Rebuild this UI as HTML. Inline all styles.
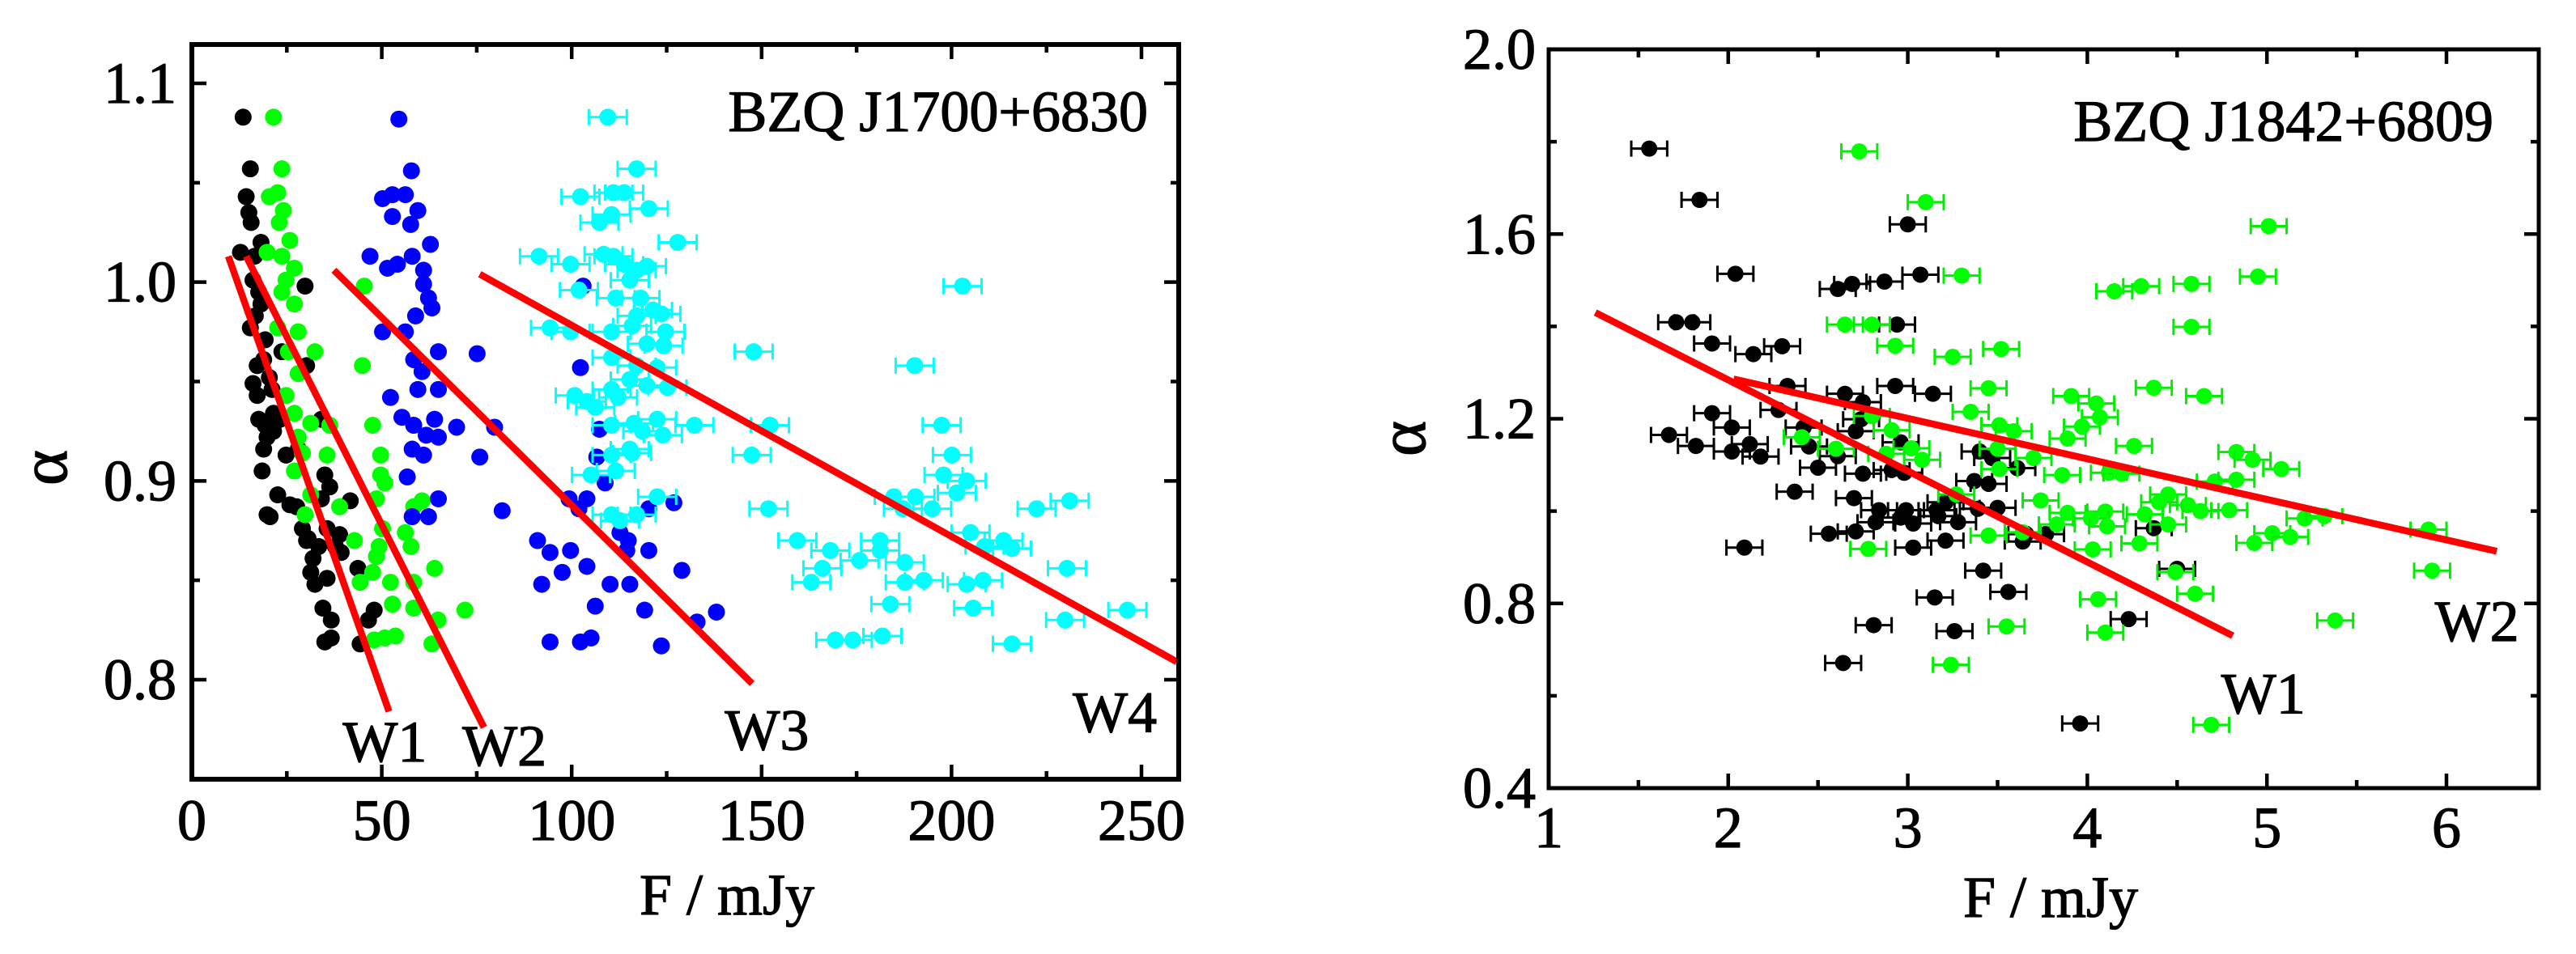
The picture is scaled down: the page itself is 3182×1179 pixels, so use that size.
<!DOCTYPE html>
<html><head><meta charset="utf-8"><style>
html,body{margin:0;padding:0;background:#fff;width:3182px;height:1179px;overflow:hidden}
svg{display:block}
text{font-family:"Liberation Serif",serif;fill:#000;stroke:#000;stroke-width:1.2}
</style></head><body>
<svg id="chart" width="3182" height="1179" viewBox="0 0 3182 1179" xmlns="http://www.w3.org/2000/svg"></svg>
<script>
// ---------- Left panel data (BZQ J1700+6830) ----------
const L_blackX=[13.5,15.4,14.3,15,15.6,12.8,16.5,18.2,29.8,15.4,18.2,19.3,17.2,20.4,17.2,21.5,19.3,18.9,19.8,18.5,22.6,19.8,20.6,24.8,27.6,30.2,34.1,35,36.3,30.2,33.4,31.3,32.4,35.6,37.8,38.9,41.7,34.5,36.7,36.7,35,43.7,46.5,48,44.3,23.7,28,30.6,31.9,16.1,17.6,16.7,18.9,21.1,16.1,17.6,21.5,23.2,25.8,29.1,35.6,34.1,39.3];
const L_blackY=[1.083,1.057,1.043,1.035,1.030,1.015,1.013,1.020,0.998,0.977,0.989,0.971,0.958,0.952,0.943,0.934,0.928,0.916,0.922,0.905,0.893,0.883,0.882,0.913,0.887,0.958,0.931,0.903,0.897,0.870,0.867,0.854,0.848,0.851,0.867,0.873,0.890,0.836,0.830,0.821,0.819,0.856,0.830,0.835,0.818,0.965,0.916,0.871,0.861,1.001,0.995,0.983,0.961,0.946,0.949,0.931,0.925,0.931,0.888,0.876,0.876,0.891,0.864];
const L_greenX=[21.5,23.7,20.4,22.6,24.1,23,25.8,19.8,23.7,27,24.8,23.7,27,22.6,28,25.4,32.4,28,24.8,27,31.3,36.3,28,29.1,35.6,27,31.3,29.8,38.9,45.4,44.9,47.6,49.7,49.7,50.8,48.6,58.4,60.6,42.8,48.6,47.6,44.3,56.2,57.7,52.3,58.4,63.9,52.8,58.4,64.8,71.9,48,50.8,53.6,63.2,49.3,50.2];
const L_greenY=[1.083,1.057,1.043,1.045,1.036,1.030,1.021,1.015,1.013,1.007,1.001,0.995,0.989,0.977,0.975,0.965,0.965,0.954,0.943,0.934,0.929,0.928,0.922,0.914,0.913,0.905,0.893,0.883,0.887,0.998,0.958,0.928,0.913,0.903,0.899,0.891,0.887,0.890,0.870,0.862,0.854,0.849,0.874,0.867,0.849,0.849,0.856,0.838,0.836,0.830,0.835,0.820,0.821,0.822,0.818,0.867,0.876];
const L_blueX=[54.5,57.8,50.2,52.8,56.2,52.8,59.5,57.6,62.8,46.9,58,51.5,54.1,61,61,62.3,63.2,50.2,56.2,58.9,64.9,58.4,60.6,59.5,64.9,52.3,55.3,58.4,63.9,61.7,58,61,64.9,56.7,58,62.3,64.9,75.1,69.7,75.8,79.7,81.7,103,102.3,107.3,106.6,108.8,104,99.3,101.9,91,94.3,99.7,97.5,92.1,104,112.7,114.9,114.5,120.3,120.3,126.9,110.1,115.3,106.2,119.2,129,133,138.1,94.3,102.3,105.1,123.6];
const L_blueY=[1.082,1.056,1.042,1.044,1.044,1.033,1.036,1.029,1.019,1.013,1.013,1.007,1.009,1.006,0.999,0.992,0.987,0.975,0.975,0.983,0.965,0.961,0.955,0.946,0.946,0.942,0.932,0.928,0.931,0.923,0.916,0.913,0.922,0.902,0.882,0.882,0.891,0.964,0.927,0.912,0.927,0.885,0.998,0.957,0.926,0.912,0.899,0.891,0.891,0.886,0.870,0.864,0.865,0.854,0.848,0.857,0.874,0.870,0.865,0.865,0.886,0.889,0.848,0.848,0.837,0.835,0.855,0.829,0.834,0.819,0.819,0.821,0.817];
const L_cyanX=[109.5,117.1,102.3,111,113.8,110.5,107.3,120.3,127.9,91.4,108.4,111,99.7,113.8,117.1,119.8,115.3,101.9,111.6,118.1,121.4,117.1,123.6,94.3,99.7,110.5,115.9,124.7,119.8,124.2,110.5,117.1,122.5,115.3,119.8,125.2,110.5,100.8,104,112.2,106.2,116.4,122.5,110.5,132.3,118.6,124,115.3,110.5,115.9,105.1,111.6,122.5,110.5,112.7,117.1,147.9,147.4,152.2,151.8,202.9,190.3,197.4,200.1,197.9,204,201.4,184.8,190.5,194.9,187.2,222.4,231.1,159.4,168.1,175.8,181.2,181.2,187.7,205,208.7,213.7,215.9,166,163.1,187.7,192.7,204,208.3,230.4,183.9,205.7,246.3,229.9,169.4,174,181.8,215.9];
const L_cyanY=[1.083,1.057,1.043,1.045,1.045,1.034,1.030,1.037,1.020,1.013,1.014,1.013,1.009,1.009,1.006,1.008,1.001,0.996,0.992,0.992,0.986,0.983,0.984,0.977,0.975,0.975,0.978,0.975,0.969,0.968,0.962,0.958,0.957,0.951,0.948,0.947,0.946,0.943,0.940,0.942,0.937,0.929,0.931,0.928,0.928,0.925,0.923,0.916,0.913,0.914,0.903,0.905,0.892,0.883,0.880,0.883,0.965,0.913,0.928,0.886,0.998,0.958,0.928,0.913,0.903,0.900,0.894,0.892,0.892,0.886,0.886,0.886,0.890,0.870,0.865,0.860,0.870,0.865,0.859,0.874,0.867,0.870,0.866,0.856,0.849,0.849,0.850,0.848,0.850,0.856,0.838,0.836,0.835,0.830,0.820,0.820,0.822,0.818];
const L_cyanErr=5;
const L_fitNames=['W1','W2','W3','W4'];
const L_fitX1=[9.6,14.3,37.4,75.8], L_fitY1=[1.013,1.013,1.006,1.004];
const L_fitX2=[51.9,76.9,147.5,259.3], L_fitY2=[0.784,0.776,0.798,0.809];
const L_labX=[50.8,82.3,151.4,243], L_labY=[0.769,0.767,0.775,0.784];
const L_xTicks=[0,50,100,150,200,250], L_yTicks=[0.8,0.9,1.0,1.1];
const L_xTickLabels=['0','50','100','150','200','250'], L_yTickLabels=['0.8','0.9','1.0','1.1'];

// ---------- Right panel data (BZQ J1842+6809) ----------
const R_blackX=[1.56,1.84,3.00,2.04,3.07,2.61,2.69,2.87,1.71,1.80,2.94,1.91,2.14,2.30,2.33,2.65,2.93,3.14,2.75,2.28,1.91,2.02,2.42,2.74,2.71,1.67,2.12,2.45,2.96,1.82,2.02,2.18,2.61,3.40,3.47,3.61,2.50,2.75,2.91,2.98,3.37,3.45,2.37,2.70,2.84,2.99,2.96,3.03,3.16,3.21,3.17,3.39,3.50,3.28,2.82,2.71,2.56,3.66,3.77,3.64,3.21,3.03,2.09,4.37,4.50,3.42,3.56,3.15,4.23,2.81,3.26,2.64,3.96];
const R_blackY=[1.785,1.674,1.621,1.514,1.512,1.481,1.492,1.497,1.409,1.409,1.404,1.363,1.340,1.357,1.271,1.254,1.271,1.254,1.236,1.219,1.212,1.181,1.181,1.199,1.173,1.165,1.145,1.140,1.149,1.141,1.129,1.118,1.119,1.129,1.115,1.093,1.094,1.081,1.089,1.083,1.065,1.059,1.042,1.028,1.002,1.002,0.986,0.973,1.002,1.019,0.989,1.005,1.007,0.976,0.976,0.956,0.951,0.950,0.950,0.934,0.936,0.921,0.921,0.963,0.875,0.871,0.825,0.813,0.766,0.753,0.740,0.671,0.540];
const R_greenX=[2.73,3.10,5.01,3.30,4.95,4.30,4.15,4.58,2.65,2.80,4.58,2.93,3.52,3.25,3.45,4.37,3.91,4.65,4.05,4.07,2.80,3.35,3.51,3.59,3.97,2.91,2.41,3.89,4.26,2.60,3.02,3.50,2.88,3.08,3.70,4.83,4.92,5.08,3.51,3.86,4.12,4.19,4.71,4.83,3.27,4.45,3.74,4.40,4.56,4.63,4.79,3.89,4.10,4.02,4.32,5.21,5.32,4.11,3.83,4.45,5.03,5.13,3.64,3.45,5.90,4.93,4.29,4.03,2.78,4.49,5.92,4.60,4.06,5.38,3.55,4.10,3.24,4.69];
const R_greenY=[1.779,1.669,1.617,1.510,1.508,1.487,1.476,1.492,1.404,1.404,1.399,1.358,1.351,1.334,1.266,1.267,1.249,1.249,1.233,1.203,1.206,1.215,1.186,1.173,1.183,1.175,1.160,1.157,1.141,1.135,1.136,1.135,1.124,1.111,1.115,1.128,1.111,1.091,1.091,1.078,1.083,1.081,1.064,1.068,1.036,1.036,1.023,1.019,1.013,1.000,1.002,0.996,0.999,0.984,0.993,0.984,0.989,0.967,0.971,0.971,0.952,0.944,0.954,0.947,0.960,0.931,0.930,0.917,0.918,0.868,0.871,0.821,0.809,0.763,0.750,0.737,0.667,0.537];
const R_err=0.1;
const R_fitNames=['W1','W2'];
const R_fitX1=[1.26,2.03], R_fitY1=[1.430,1.286];
const R_fitX2=[4.81,6.28], R_fitY2=[0.730,0.913];
const R_labX=[4.98,6.17], R_labY=[0.606,0.763];
const R_xTicks=[1,2,3,4,5,6], R_yTicks=[0.4,0.8,1.2,1.6,2.0];
const R_xTickLabels=['1','2','3','4','5','6'], R_yTickLabels=['0.4','0.8','1.2','1.6','2.0'];

const NS='http://www.w3.org/2000/svg';
const svg=document.getElementById('chart');
function mk(tag,attrs,parent){const e=document.createElementNS(NS,tag);for(const k in attrs)e.setAttribute(k,attrs[k]);(parent||svg).appendChild(e);return e;}

function panel(cfg){
  const g=mk('g',{});
  
  
  const sx=v=>cfg.px0+(v-cfg.x0)*(cfg.px1-cfg.px0)/(cfg.x1-cfg.x0);
  const sy=v=>cfg.py0+(v-cfg.y0)*(cfg.py1-cfg.py0)/(cfg.y1-cfg.y0);
  const L=cfg.fl,R=cfg.fr,T=cfg.ft,B=cfg.fb;
  cfg.series.forEach(s=>{
    const sg=mk('g',{},g);
    
    
    s.x.forEach((xv,i)=>{
      const cx=sx(xv),cy=sy(s.y[i]);
      if(s.err){
        const a=sx(xv-s.err),b=sx(xv+s.err);
        const eb=mk('path',{d:`M${a},${cy}H${b}M${a},${cy-10}V${cy+10}M${b},${cy-10}V${cy+10}`,stroke:s.ecol,'stroke-width':3,fill:'none'},sg);
        
        
      }
      const c=mk('circle',{cx:cx,cy:cy,r:cfg.r,fill:s.col},sg);
      
      
    });
  });
  cfg.fits.n.forEach((n,i)=>{
    const ln=mk('line',{x1:sx(cfg.fits.x1[i]),y1:sy(cfg.fits.y1[i]),x2:sx(cfg.fits.x2[i]),y2:sy(cfg.fits.y2[i]),stroke:'#ff0000','stroke-width':8.5},g);
    
    
    const t=mk('text',{x:sx(cfg.fits.lx[i]),y:sy(cfg.fits.ly[i])+25,'text-anchor':'middle','font-size':72},g);
    t.textContent=n;
    
    
  });
  const fr=mk('rect',{x:L,y:T,width:R-L,height:B-T,fill:'none',stroke:'#000','stroke-width':cfg.sw},g);
  
  
  let d='';
  cfg.xt.forEach(v=>{const x=sx(v);d+=`M${x},${B}V${B-18}M${x},${T}V${T+18}`;});
  cfg.xm.forEach(v=>{const x=sx(v);d+=`M${x},${B}V${B-10}M${x},${T}V${T+10}`;});
  cfg.yt.forEach(v=>{const y=sy(v);d+=`M${L},${y}H${L+18}M${R},${y}H${R-18}`;});
  cfg.ym.forEach(v=>{const y=sy(v);d+=`M${L},${y}H${L+10}M${R},${y}H${R-10}`;});
  const tk=mk('path',{d:d,stroke:'#000','stroke-width':4.5,fill:'none'},g);
  
  
  cfg.xt.forEach((v,i)=>{
    const t=mk('text',{x:sx(v),y:cfg.xly,'text-anchor':'middle','font-size':72},g);
    t.textContent=cfg.xtl[i];
    
    
  });
  cfg.yt.forEach((v,i)=>{
    const t=mk('text',{x:cfg.ylx,y:sy(v)+24,'text-anchor':'end','font-size':72},g);
    t.textContent=cfg.ytl[i];
    
    
  });
  const xt=mk('text',{x:cfg.xtx,y:cfg.xty,'text-anchor':'middle','font-size':72},g);
  xt.textContent='F / mJy';
  
  
  const yt=mk('text',{x:0,y:0,'text-anchor':'middle','font-size':84,transform:`translate(${cfg.ytx},${cfg.yty}) rotate(-90)`},g);
  yt.textContent='α';
  
  
  const tt=mk('text',{x:cfg.ttx,y:cfg.tty,'text-anchor':'end','font-size':72},g);
  tt.textContent=cfg.title;
  
  
}

panel({name:'left-panel',x0:0,x1:250,px0:237,px1:1410,y0:1.1,y1:0.8,py0:103,py1:840,
  fl:237,fr:1456,ft:55,fb:963,sw:6,r:10.5,
  series:[
    {name:'series-black',x:L_blackX,y:L_blackY,col:'#000'},
    {name:'series-green',x:L_greenX,y:L_greenY,col:'#00ff00'},
    {name:'series-blue',x:L_blueX,y:L_blueY,col:'#0000ff'},
    {name:'series-cyan',x:L_cyanX,y:L_cyanY,col:'#00ffff',err:L_cyanErr,ecol:'#00ffff'}],
  fits:{n:L_fitNames,x1:L_fitX1,y1:L_fitY1,x2:L_fitX2,y2:L_fitY2,lx:L_labX,ly:L_labY},
  xt:L_xTicks,xm:[25,75,125,175,225],yt:L_yTicks,ym:[0.85,0.95,1.05],
  xtl:L_xTickLabels,ytl:L_yTickLabels,xly:1038,ylx:218,xtx:898,xty:1130,ytx:82,yty:578,
  ttx:1418,tty:162,title:'BZQ J1700+6830'});

panel({name:'right-panel',x0:1,x1:6,px0:1913,px1:3022,y0:2.0,y1:0.4,py0:61,py1:974,
  fl:1913,fr:3136,ft:61,fb:974,sw:5,r:10,
  series:[
    {name:'series-black',x:R_blackX,y:R_blackY,col:'#000',err:R_err,ecol:'#000'},
    {name:'series-green',x:R_greenX,y:R_greenY,col:'#00ff00',err:R_err,ecol:'#00ee00'}],
  fits:{n:R_fitNames,x1:R_fitX1,y1:R_fitY1,x2:R_fitX2,y2:R_fitY2,lx:R_labX,ly:R_labY},
  xt:R_xTicks,xm:[1.5,2.5,3.5,4.5,5.5],yt:R_yTicks,ym:[0.6,1.0,1.4,1.8],
  xtl:R_xTickLabels,ytl:R_yTickLabels,xly:1047,ylx:1897,xtx:2533,xty:1133,ytx:1760,yty:542,
  ttx:3080,tty:174,title:'BZQ J1842+6809'});
</script>
</body></html>
